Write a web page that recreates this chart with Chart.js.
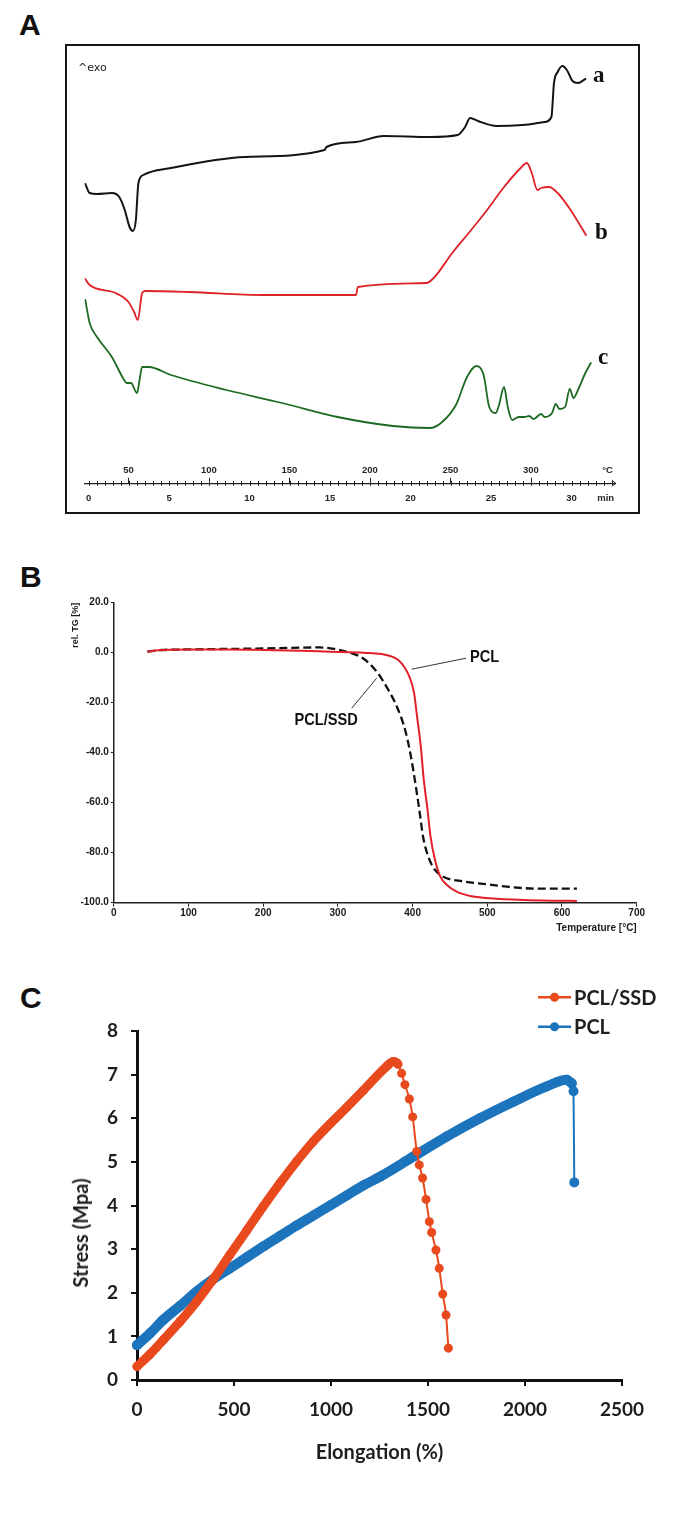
<!DOCTYPE html>
<html><head><meta charset="utf-8">
<script src="https://cdn.jsdelivr.net/npm/chart.js@4.4.1/dist/chart.umd.min.js"></script>
<style>
html,body{margin:0;padding:0;background:#fff;}
body{width:694px;height:1515px;position:relative;overflow:hidden;font-family:'Liberation Sans',Arial,sans-serif;}
canvas{position:absolute;}
.panel{position:absolute;font:bold 30px 'Liberation Sans',Arial,sans-serif;color:#111;line-height:30px;}
.curv{position:absolute;font:bold 23px 'Liberation Serif','Times New Roman',serif;color:#111;line-height:23px;}
#boxA{position:absolute;left:65px;top:44px;width:571px;height:466px;border:2px solid #161616;}
</style></head><body>
<div class="panel" style="left:19px;top:10px">A</div>
<div class="panel" style="left:20px;top:562px">B</div>
<div class="panel" style="left:20px;top:983px">C</div>
<div id="boxA"></div>
<canvas id="cA" width="571" height="466" style="left:67px;top:46px;width:571px;height:466px"></canvas>
<div style="position:absolute;left:78px;top:62px;font:11px 'DejaVu Sans',sans-serif;line-height:11px;color:#222">^exo</div>
<div class="curv" style="left:593px;top:63px">a</div>
<div class="curv" style="left:595px;top:220px">b</div>
<div class="curv" style="left:598px;top:345px">c</div>
<canvas id="cB" width="694" height="350" style="left:0;top:590px;width:694px;height:350px"></canvas>
<canvas id="cC" width="694" height="540" style="left:0;top:960px;width:694px;height:540px"></canvas>
<div style="position:absolute;left:80px;top:1233px;transform:translate(-50%,-50%) rotate(-90deg);font:bold 20px Lato,sans-serif;white-space:nowrap;color:#1e1e1e">Stress (Mpa)</div>
<script>
// ---------- Panel A : DSC (time in min, heat flow in arbitrary units) ----------
const dscTimeA = [-0.2,0.07,0.53,1.45,1.91,2.25,2.55,2.76,2.94,3.10,3.40,5.12,9.72,14.66,14.78,16.61,18.34,21.21,22.93,23.39,23.70,24.19,25.34,26.96,28.33,28.75,28.91,29.14,29.43,29.71,30.06,30.40,30.86];
const dscHeatA = [29.9,29.0,28.9,29.0,28.6,27.3,25.6,25.2,26.3,30.0,30.8,31.5,32.6,33.3,33.6,34.1,34.7,34.6,34.8,35.6,36.5,36.2,35.7,35.8,36.1,36.6,40.0,41.1,41.7,41.3,40.2,40.0,40.4];
const dscTimeB = [-0.2,0.07,1.68,2.48,2.83,3.06,3.33,3.51,6.27,10.87,16.61,16.73,20.98,21.44,22.59,23.51,24.66,25.81,26.84,27.23,27.53,27.88,28.11,28.60,29.14,29.94,30.90];
const dscHeatB = [20.4,19.8,19.0,18.1,17.1,16.3,19.0,19.2,19.1,18.8,18.8,19.6,20.0,20.5,23.0,24.8,27.1,29.6,31.5,32.0,31.0,29.3,29.5,29.6,29.0,27.3,24.8];
const dscTimeC = [-0.2,0.07,0.53,1.45,2.14,2.37,2.64,3.01,3.17,3.33,3.75,5.12,8.57,12.02,15.47,18.91,21.21,21.89,22.82,23.51,24.08,24.54,24.89,25.30,25.48,25.81,26.04,26.31,26.72,27.07,27.37,27.64,28.11,28.33,28.79,29.02,29.25,29.60,29.89,30.12,30.40,30.86,31.20];
const dscHeatC = [18.3,16.0,14.6,12.6,10.5,10.0,10.0,9.0,10.3,11.6,11.6,10.8,9.3,8.0,6.6,5.7,5.5,6.0,7.8,10.6,11.7,10.8,7.6,7.0,7.7,9.6,7.6,6.3,6.6,6.6,6.7,6.4,6.9,6.6,7.0,7.9,7.4,7.6,9.4,8.5,9.3,11.0,12.0];
const minTickValues = [0,5,10,15,20,25,30,32.12];
const minTickLabels = ['0','5','10','15','20','25','30','min'];
const tempTickValues = [50,100,150,200,250,300,347.6];
const tempTickLabels = ['50','100','150','200','250','300','°C'];
const dscStartTemp = 25.2, dscRate = 10; // °C at 0 min, K/min
const tMin = -0.25, tMax = 32.75;

// ---------- Panel B : TGA ----------
const tgaTempPCL = [45,60,100,150,200,250,290,334,370,381,390,396.5,402,406,411,415,420,424,430,437,446,459,477,504,548,590,620];
const tgaMassPCL = [0.4,1.0,1.3,1.3,1.1,0.8,0.4,0.0,-1.3,-2.9,-6.2,-10.2,-16.2,-25.6,-37.6,-50.9,-62.9,-73.6,-82.9,-89.5,-92.9,-95.6,-97.3,-98.2,-98.9,-99.2,-99.3];
const tgaTempSSD = [45,60,100,150,200,250,275,295,316,334,352,365,379,390,397,403,409,414,421,430,441,468,499,526,570,620];
const tgaMassSSD = [0.4,1.0,1.3,1.5,1.7,2.0,2.1,1.5,0.0,-2.3,-7.6,-13.6,-21.6,-30.9,-40.3,-50.9,-62.9,-73.6,-81.6,-86.9,-89.6,-91.5,-92.6,-93.6,-94.4,-94.4];
const tgaLabels = ['PCL','PCL/SSD'];

// ---------- Panel C : tensile ----------
const elongSSD = [0,67,136,222,308,393,479,565,651,737,823,909,995,1081,1167,1287,1321,1345,1364,1381,1404,1421,1442,1455,1472,1490,1507,1519,1541,1558,1576,1593,1605];
const stressSSD = [0.31,0.59,0.92,1.34,1.80,2.31,2.87,3.42,3.98,4.51,5.01,5.47,5.87,6.25,6.64,7.19,7.30,7.24,7.03,6.77,6.44,6.03,5.24,4.93,4.63,4.14,3.63,3.38,2.98,2.56,1.97,1.49,0.73];
const elongPCL = [0,67,136,222,308,393,479,565,651,737,823,909,995,1081,1167,1253,1424,1596,1768,1940,2112,2215,2241,2250,2254];
const stressPCL = [0.80,1.07,1.38,1.70,2.03,2.31,2.56,2.81,3.06,3.30,3.54,3.77,4.00,4.23,4.46,4.66,5.12,5.58,6.00,6.38,6.73,6.88,6.80,6.62,4.53];
const breakSSD = 17, breakPCL = 22; // index where fracture (thin segment) starts
const seriesC = ['PCL/SSD','PCL'];

Chart.defaults.animation = false;
Chart.defaults.font.family = "'Liberation Sans', Arial, sans-serif";
const pts = (xs, ys) => xs.map((x, i) => ({x, y: ys[i]}));

// ---------- A ----------
const axisTicksA = {
  id: 'axisTicksA',
  afterDraw(chart) {
    const {ctx, scales: {x, x2}} = chart;
    const y0 = x.top;
    ctx.save();
    ctx.strokeStyle = '#222'; ctx.lineWidth = 1;
    ctx.beginPath();
    for (let t = 0; t <= 32.51; t += 0.5) {
      const px = Math.round(x.getPixelForValue(t)) + 0.5;
      ctx.moveTo(px, y0 - 2.5); ctx.lineTo(px, y0 + 2.5);
    }
    for (const T of tempTickValues.slice(0, -1)) {
      const px = Math.round(x2.getPixelForValue(T)) + 0.5;
      ctx.moveTo(px, y0 - 5.5); ctx.lineTo(px, y0);
    }
    const xr = x.right;
    ctx.moveTo(xr - 4, y0 - 3); ctx.lineTo(xr, y0); ctx.lineTo(xr - 4, y0 + 3);
    ctx.stroke();
    ctx.restore();
  }
};
const fontA = {family: "'Liberation Sans', Arial, sans-serif", weight: 'bold', size: 9.5};
new Chart(document.getElementById('cA'), {
  type: 'line',
  data: {datasets: [
    {label: 'a', data: pts(dscTimeA, dscHeatA), xAxisID: 'x', yAxisID: 'y', borderColor: '#141414', borderWidth: 2},
    {label: 'b', data: pts(dscTimeB, dscHeatB), xAxisID: 'x', yAxisID: 'y', borderColor: '#de2228', borderWidth: 1.8},
    {label: 'c', data: pts(dscTimeC, dscHeatC), xAxisID: 'x', yAxisID: 'y', borderColor: '#1d6a22', borderWidth: 1.8}
  ]},
  options: {
    responsive: false, devicePixelRatio: 1, animation: false,
    layout: {padding: {left: 17.5, right: 22.2, top: 0, bottom: 0}},
    elements: {point: {radius: 0}, line: {cubicInterpolationMode: 'monotone', fill: false, borderJoinStyle: 'round', borderCapStyle: 'round'}},
    plugins: {legend: {display: false}, tooltip: {enabled: false}},
    scales: {
      x: {type: 'linear', position: 'bottom', weight: 1, min: tMin, max: tMax,
        afterBuildTicks: s => { s.ticks = minTickValues.map(v => ({value: v})); },
        afterFit: s => { s.height = 28.7; },
        grid: {display: false, drawTicks: false}, border: {display: true, color: '#222', width: 1.3},
        ticks: {padding: 9, autoSkip: false, maxRotation: 0, font: fontA, color: '#262626', callback: (v, i) => minTickLabels[i]}},
      x2: {type: 'linear', position: 'bottom', weight: 0,
        min: dscStartTemp + dscRate * tMin, max: dscStartTemp + dscRate * tMax,
        afterBuildTicks: s => { s.ticks = tempTickValues.map(v => ({value: v})); },
        afterFit: s => { s.height = 23.3; },
        grid: {display: false, drawTicks: false}, border: {display: false},
        ticks: {padding: 5, autoSkip: false, maxRotation: 0, font: fontA, color: '#262626', callback: (v, i) => tempTickLabels[i]}},
      y: {display: false, min: 2.3, max: 43.7}
    }
  },
  plugins: [axisTicksA]
});

// ---------- B ----------
const annotB = {
  id: 'annotB',
  afterDatasetsDraw(chart, args, opts) {
    const {ctx, scales: {x, y}} = chart;
    ctx.save();
    opts.items.forEach((it, i) => {
      ctx.strokeStyle = '#333'; ctx.lineWidth = 1;
      ctx.beginPath();
      ctx.moveTo(x.getPixelForValue(it.l0[0]), y.getPixelForValue(it.l0[1]));
      ctx.lineTo(x.getPixelForValue(it.l1[0]), y.getPixelForValue(it.l1[1]));
      ctx.stroke();
      ctx.save();
      ctx.translate(x.getPixelForValue(it.t[0]), y.getPixelForValue(it.t[1]));
      ctx.scale(0.86, 1);
      ctx.fillStyle = '#111';
      ctx.font = "bold 17px 'Liberation Sans', Arial, sans-serif";
      ctx.textAlign = 'left'; ctx.textBaseline = 'middle';
      ctx.fillText(tgaLabels[i], 0, 0);
      ctx.restore();
    });
    ctx.restore();
  }
};
const fontB = {family: "'Liberation Sans', Arial, sans-serif", weight: 'bold', size: 10};
new Chart(document.getElementById('cB'), {
  type: 'line',
  data: {datasets: [
    {label: tgaLabels[0], data: pts(tgaTempPCL, tgaMassPCL), borderColor: '#e0202a', borderWidth: 2},
    {label: tgaLabels[1], data: pts(tgaTempSSD, tgaMassSSD), borderColor: '#111', borderWidth: 2.3, borderDash: [8, 4]}
  ]},
  options: {
    responsive: false, devicePixelRatio: 1, animation: false,
    layout: {padding: {left: 0, right: 57.3, top: 12.7, bottom: 0}},
    elements: {point: {radius: 0}, line: {cubicInterpolationMode: 'monotone', fill: false}},
    plugins: {legend: {display: false}, tooltip: {enabled: false},
      annotB: {items: [
        {t: [476.8, -2.0], l0: [471.5, -2.2], l1: [398.8, -6.6]},
        {t: [241.8, -26.9], l0: [318.5, -22.2], l1: [351.9, -10.2]}
      ]}},
    scales: {
      x: {type: 'linear', min: 0, max: 700,
        afterFit: s => { s.height = 37.3; },
        grid: {display: true, drawOnChartArea: false, drawTicks: true, tickLength: 4, color: '#222', lineWidth: 1},
        border: {display: true, color: '#222', width: 1.5},
        ticks: {stepSize: 100, padding: 1, maxRotation: 0, font: fontB, color: '#1a1a1a'},
        title: {display: true, text: 'Temperature [°C]', align: 'end', font: fontB, color: '#1a1a1a', padding: {top: 0, bottom: 5.7}}},
      y: {min: -100, max: 20,
        afterFit: s => { s.width = 113.8; },
        grid: {display: true, drawOnChartArea: false, drawTicks: true, tickLength: 3, color: '#222', lineWidth: 1},
        border: {display: true, color: '#222', width: 1.5},
        ticks: {stepSize: 20, padding: 2, font: fontB, color: '#1a1a1a', callback: v => v.toFixed(1)},
        title: {display: true, text: 'rel. TG [%]', align: 'end', font: {family: "'Liberation Sans', Arial, sans-serif", weight: 'bold', size: 9}, color: '#1a1a1a', padding: {top: 70, bottom: 0}}}
    }
  },
  plugins: [annotB]
});

// ---------- C ----------
const legendC = {
  id: 'legendC',
  afterDraw(chart, args, o) {
    const ctx = chart.ctx;
    ctx.save();
    chart.data.datasets.forEach((ds, i) => {
      const y = o.y0 + i * o.dy;
      ctx.strokeStyle = ds.borderColor; ctx.fillStyle = ds.borderColor; ctx.lineWidth = 2.5;
      ctx.beginPath(); ctx.moveTo(o.x0, y); ctx.lineTo(o.x0 + o.len, y); ctx.stroke();
      ctx.beginPath(); ctx.arc(o.x0 + o.len / 2, y, 4.5, 0, Math.PI * 2); ctx.fill();
      ctx.fillStyle = '#1e1e1e';
      ctx.font = 'bold 20px Lato, sans-serif';
      ctx.textAlign = 'left'; ctx.textBaseline = 'middle';
      ctx.fillText(ds.label, o.x0 + o.len + 3, y + 1);
    });
    ctx.restore();
  }
};
const fontC = {family: 'Lato, sans-serif', weight: 'bold', size: 19};
new Chart(document.getElementById('cC'), {
  type: 'line',
  data: {datasets: [
    {label: seriesC[0], data: pts(elongSSD, stressSSD), borderColor: '#e8491d', backgroundColor: '#e8491d',
     pointBackgroundColor: '#e8491d', segment: {borderWidth: c => c.p0DataIndex >= breakSSD ? 2 : 9}},
    {label: seriesC[1], data: pts(elongPCL, stressPCL), borderColor: '#1c74bd', backgroundColor: '#1c74bd',
     pointBackgroundColor: '#1c74bd', pointRadius: 5, segment: {borderWidth: c => c.p0DataIndex >= breakPCL ? 2 : 10}}
  ]},
  options: {
    responsive: false, devicePixelRatio: 1, animation: false,
    layout: {padding: {left: 0, right: 72, top: 71, bottom: 0}},
    elements: {point: {radius: 4.5, borderWidth: 0}, line: {cubicInterpolationMode: 'monotone', fill: false, borderJoinStyle: 'round', borderCapStyle: 'round', borderWidth: 9}},
    datasets: {line: {clip: false}},
    plugins: {legend: {display: false}, tooltip: {enabled: false},
      legendC: {x0: 538, y0: 37.3, dy: 29.4, len: 33}},
    scales: {
      x: {type: 'linear', min: 0, max: 2500,
        afterFit: s => { s.height = 120; },
        grid: {display: true, drawOnChartArea: false, drawTicks: true, tickLength: 6, color: '#111', lineWidth: 2},
        border: {display: true, color: '#111', width: 3},
        ticks: {stepSize: 500, padding: 12, maxRotation: 0, font: fontC, color: '#1e1e1e', callback: v => String(v)},
        title: {display: true, text: 'Elongation (%)', font: {family: 'Lato, sans-serif', weight: 'bold', size: 20}, color: '#1e1e1e', padding: {top: 0, bottom: 35}}},
      y: {min: 0, max: 8,
        afterFit: s => { s.width = 137; },
        grid: {display: true, drawOnChartArea: false, drawTicks: true, tickLength: 6, color: '#111', lineWidth: 2},
        border: {display: true, color: '#111', width: 3},
        ticks: {stepSize: 1, padding: 13, font: fontC, color: '#1e1e1e', callback: v => String(v)}}
    }
  },
  plugins: [legendC]
});
</script>
</body></html>
